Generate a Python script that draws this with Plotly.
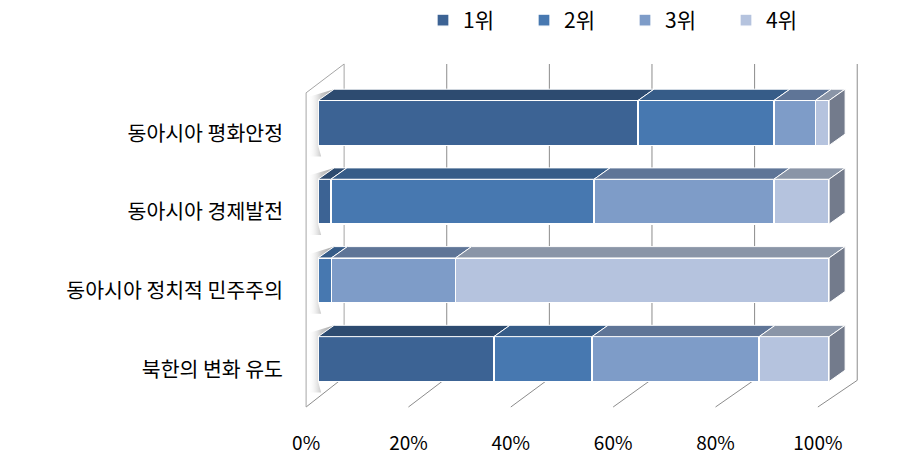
import plotly.graph_objects as go

# ---------------- data ----------------
categories = ['동아시아 평화안정', '동아시아 경제발전', '동아시아 정치적 민주주의', '북한의 변화 유도']
series_names = ['1위', '2위', '3위', '4위']
rank1 = [62.6, 2.5, 0.0, 34.4]
rank2 = [26.6, 51.5, 2.6, 19.2]
rank3 = [8.1, 35.2, 24.3, 32.7]
rank4 = [2.7, 10.8, 73.1, 13.7]
x_ticks = [0, 20, 40, 60, 80, 100]
x_tick_labels = ['0%', '20%', '40%', '60%', '80%', '100%']

# ---------------- styles ----------------
front_colors = ['#3c6394', '#4778b0', '#7e9cc8', '#b5c3de']
top_colors = ['#2d4b70', '#365c88', '#5f7597', '#8a95a7']
side_color = '#737b8c'
FONT = 'Noto Sans CJK KR'
positions = [3, 2, 1, 0]          # top to bottom
BAR_W = 0.57
DX, DY = 3.13, 0.144              # depth of bars (data units)
# wall / floor geometry (data units)
F0, F100, FY = -2.35, 97.8, -0.609      # front floor edge
B0, B100, BY = 5.09, 105.5, -0.27       # back wall bottom
FL0 = 4.3                               # floor lines back start
WALL_TOP_F, WALL_TOP_B = 3.383, 3.749
LABEL_SHIFT = 0.133
grid_col = '#8c8c8c'
wall_col = '#a6a6a6'

series = [rank1, rank2, rank3, rank4]

fig = go.Figure()

# soft shadows cast on the left wall (one per category), kept off the front faces
for p in positions:
    yb = p - BAR_W / 2
    yt = p + BAR_W / 2
    fig.add_trace(go.Scatter(
        x=[F0 + 0.4, 0.6, 0, 0, DX, F0 + 0.4, F0 + 0.4],
        y=[yb - 0.14, yb - 0.14, yb, yt, yt + DY, yt + DY - 0.1, yb - 0.14],
        mode='lines', line=dict(width=0), fill='toself',
        fillgradient=dict(type='horizontal',
                          colorscale=[[0, 'rgba(255,255,255,0)'], [0.5, 'rgba(165,165,165,0.6)'],
                                      [1, 'rgba(140,140,140,0.8)']]),
        showlegend=False, hoverinfo='skip'))

# front faces
for name, vals, col in zip(series_names, series, front_colors):
    fig.add_trace(go.Bar(
        x=vals, y=positions, orientation='h', name=name, width=BAR_W,
        marker=dict(color=col, line=dict(color='white', width=1.3)),
        hoverinfo='skip'))

# top faces & right side faces (computed from data)
starts = [0.0] * len(categories)
for s_idx, vals in enumerate(series):
    xs, ys = [], []
    for i, v in enumerate(vals):
        x0 = starts[i]
        x1 = x0 + v
        if v > 0:
            yt = positions[i] + BAR_W / 2
            xs += [x0, x1, x1 + DX, x0 + DX, x0, None]
            ys += [yt, yt, yt + DY, yt + DY, yt, None]
        starts[i] = x1
    fig.add_trace(go.Scatter(x=xs, y=ys, mode='lines', fill='toself',
                             fillcolor=top_colors[s_idx],
                             line=dict(color='white', width=1),
                             showlegend=False, hoverinfo='skip'))
sx, sy = [], []
for i, tot in enumerate(starts):
    yb = positions[i] - BAR_W / 2
    yt = positions[i] + BAR_W / 2
    sx += [tot, tot, tot + DX, tot + DX, tot, None]
    sy += [yb, yt, yt + DY, yb + DY, yb, None]
fig.add_trace(go.Scatter(x=sx, y=sy, mode='lines', fill='toself', fillcolor=side_color,
                         line=dict(color='white', width=1), showlegend=False, hoverinfo='skip'))

# walls, gridlines, floor
shapes = []
line = dict(color=grid_col, width=1)
wline = dict(color=wall_col, width=1)
# back wall gridlines
for t in x_ticks:
    gx = B0 + t * (B100 - B0) / 100
    shapes.append(dict(type='line', x0=gx, x1=gx, y0=BY, y1=WALL_TOP_B,
                       line=wline if t == 0 else line, layer='below'))
# floor lines
for t in x_ticks:
    fx = F0 + t * (F100 - F0) / 100
    bx = FL0 + t * (B100 - FL0) / 100
    shapes.append(dict(type='line', x0=fx, x1=bx, y0=FY, y1=BY, line=line, layer='below'))
# left wall front edge and top
shapes.append(dict(type='line', x0=F0, x1=F0, y0=FY, y1=WALL_TOP_F, line=wline, layer='below'))
shapes.append(dict(type='line', x0=F0, x1=B0, y0=WALL_TOP_F, y1=WALL_TOP_B, line=wline, layer='below'))

fig.update_layout(
    width=914, height=467,
    margin=dict(l=290, r=44, t=60, b=55),
    paper_bgcolor='white', plot_bgcolor='white',
    barmode='stack',
    shapes=shapes,
    font=dict(family=FONT, size=20, color='black'),
    xaxis=dict(range=[-5.5, 108], showgrid=False, zeroline=False, showline=False,
               tickvals=[F0 + t * (F100 - F0) / 100 for t in x_ticks],
               ticktext=x_tick_labels, ticks='', ticklabelstandoff=20,
               tickfont=dict(size=19)),
    yaxis=dict(range=[-0.647, 3.8], showgrid=False, zeroline=False, showline=False,
               tickvals=[p - LABEL_SHIFT for p in positions], ticktext=categories,
               ticks='', ticklabelstandoff=6, tickfont=dict(size=20.5)),
    legend=dict(orientation='h', xref='container', yref='container',
                x=423 / 914, y=1.0, xanchor='left', yanchor='top',
                entrywidth=56, entrywidthmode='pixels',
                font=dict(size=21), traceorder='normal', bgcolor='rgba(0,0,0,0)'),
    showlegend=True,
)

fig.write_html('out.html')
